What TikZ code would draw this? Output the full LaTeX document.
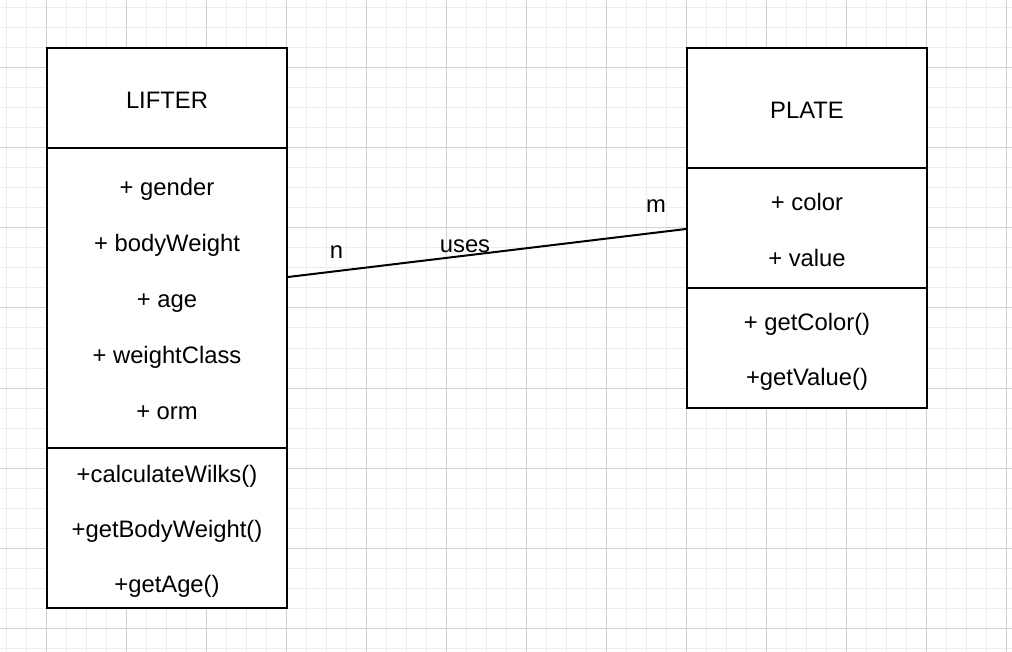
\documentclass[tikz,border=0pt]{standalone}
\usepackage{fontspec}
\setmainfont{Liberation Sans}
\begin{document}
\begin{tikzpicture}[x=1pt,y=-1pt,
  umlbox/.style={draw=black,line width=2pt,fill=white,inner sep=0pt,minimum width=240pt},
  txt/.style={anchor=base,inner sep=0pt,font=\fontsize{23.8}{28}\selectfont,text=black},
  conn/.style={draw=black,line width=2pt}]
\useasboundingbox (0,0) rectangle (1012,652);
\fill[white] (0,0) rectangle (1012,652);
% grid
\foreach \x in {6,26,...,1006} \draw[color=black!7,line width=1pt] (\x,0) -- (\x,652);
\foreach \y in {8,28,...,648} \draw[color=black!7,line width=1pt] (0,\y) -- (1012,\y);
\foreach \x in {46,126,...,1006} \draw[color=black!18,line width=1pt] (\x,0) -- (\x,652);
\foreach \y in {68,148,...,628} \draw[color=black!18,line width=1pt] (0,\y) -- (1012,\y);
% LIFTER class
\node[umlbox,minimum height=100pt] (lhead) at (167,98) {};
\node[umlbox,minimum height=300pt] (lattr) at (167,298) {};
\node[umlbox,minimum height=160pt] (lmeth) at (167,528) {};
\node[txt] (lname) at (167,108.2) {LIFTER};
\node[txt] (la1) at (167,195.5) {+ gender};
\node[txt] (la2) at (167,251.5) {+ bodyWeight};
\node[txt] (la3) at (167,307.5) {+ age};
\node[txt] (la4) at (167,363.5) {+ weightClass};
\node[txt] (la5) at (167,419.5) {+ orm};
\node[txt] (lm1) at (167,482.2) {+calculateWilks()};
\node[txt] (lm2) at (167,537.2) {+getBodyWeight()};
\node[txt] (lm3) at (167,592.2) {+getAge()};
% PLATE class
\node[umlbox,minimum height=120pt] (phead) at (807,108) {};
\node[umlbox,minimum height=120pt] (pattr) at (807,228) {};
\node[umlbox,minimum height=120pt] (pmeth) at (807,348) {};
\node[txt] (pname) at (807,118.8) {PLATE};
\node[txt] (pa1) at (807,210.5) {+ color};
\node[txt] (pa2) at (807,266.2) {+ value};
\node[txt] (pm1) at (807,330.5) {+ getColor()};
\node[txt] (pm2) at (807,385.5) {+getValue()};
% association
\coordinate (lend) at (289,277);
\coordinate (pend) at (686,229);
\draw[conn] (lattr.east |- lend) -- (pattr.west |- pend);
\node[txt] (nlabel) at (336.5,258.2) {n};
\node[txt] (uses) at (465,252.2) {uses};
\node[txt] (mlabel) at (656,212.2) {m};
\end{tikzpicture}
\end{document}
